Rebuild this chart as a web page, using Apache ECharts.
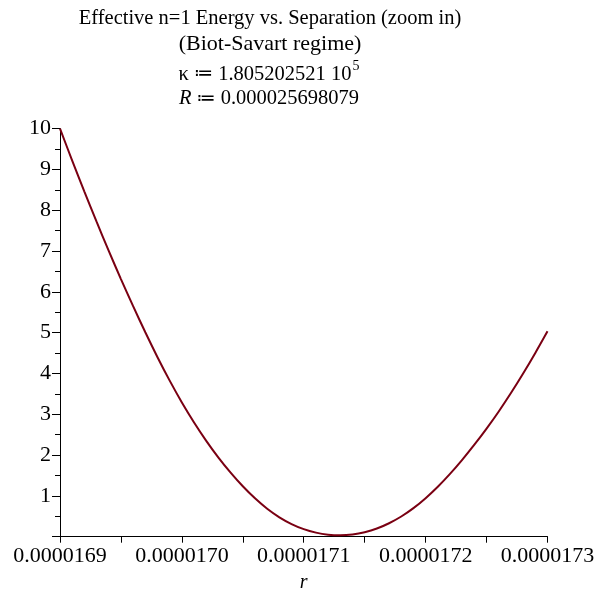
<!DOCTYPE html>
<html>
<head>
<meta charset="utf-8">
<script src="https://cdn.jsdelivr.net/npm/echarts@6/dist/echarts.min.js"></script>
<style>html,body{margin:0;padding:0;background:#fff}#c{width:598px;height:592px}</style>
</head>
<body>
<div id="c"></div>
<script>
var titleLine1 = 'Effective n=1 Energy vs. Separation (zoom in)';
var titleLine2 = '(Biot-Savart regime)';
var kappaSym = 'κ';
var assignSym = '≔';
var kappaMantissa = '1.805202521 10';
var kappaExp = '5';
var rSym = 'R';
var rValueText = '0.000025698079';
var xName = 'r';

var rValues = [
  0.00001690, 0.00001691, 0.00001692, 0.00001693, 0.00001694, 0.00001695, 0.00001696, 0.00001697, 0.00001698, 0.00001699,
  0.00001700, 0.00001701, 0.00001702, 0.00001703, 0.00001704, 0.00001705, 0.00001706, 0.00001707, 0.00001708, 0.00001709,
  0.00001710, 0.00001711, 0.00001712, 0.00001713, 0.00001714, 0.00001715, 0.00001716, 0.00001717, 0.00001718, 0.00001719,
  0.00001720, 0.00001721, 0.00001722, 0.00001723, 0.00001724, 0.00001725, 0.00001726, 0.00001727, 0.00001728, 0.00001729,
  0.00001730
];
var energyValues = [
  10.00, 9.22, 8.46, 7.72, 7.005, 6.315, 5.65, 5.01, 4.40, 3.825,
  3.29, 2.80, 2.35, 1.94, 1.57, 1.235, 0.94, 0.685, 0.475, 0.31,
  0.185, 0.10, 0.05, 0.035, 0.055, 0.11, 0.20, 0.33, 0.495, 0.70,
  0.945, 1.225, 1.54, 1.885, 2.255, 2.65, 3.07, 3.52, 4.00, 4.505,
  5.035
];
var xMin = 0.0000169, xMax = 0.0000173, xStep = 0.00000005;
var yMin = 0, yMax = 10, yStep = 1;

var data = rValues.map(function (r, i) { return [r, energyValues[i]]; });

var serif = 'Liberation Serif';
var chart = echarts.init(document.getElementById('c'), null, {renderer: 'canvas'});
chart.setOption({
  animation: false,
  backgroundColor: '#ffffff',
  title: [
    {text: titleLine1, left: 270, top: 8, textAlign: 'center', padding: 0,
     textStyle: {fontFamily: serif, fontSize: 20.5, fontWeight: 'normal', color: '#000'}},
    {text: titleLine2, left: 270, top: 33, textAlign: 'center', padding: 0,
     textStyle: {fontFamily: serif, fontSize: 22, fontWeight: 'normal', color: '#000'}},
    {text: '{a|' + kappaSym + ' }{o|' + assignSym + '}{a| ' + kappaMantissa + '}{s|' + kappaExp + '}',
     left: 269, top: 59, textAlign: 'center', padding: 0,
     textStyle: {fontFamily: serif, fontSize: 20.5, fontWeight: 'normal', color: '#000',
       rich: {
         a: {fontFamily: serif, fontSize: 20.5, color: '#000', lineHeight: 26, verticalAlign: 'bottom'},
         o: {fontFamily: 'DejaVu Sans', fontSize: 19, color: '#000', lineHeight: 26, verticalAlign: 'bottom', padding: [0, 0, 1, 0]},
         s: {fontFamily: serif, fontSize: 14, color: '#000', lineHeight: 26, verticalAlign: 'top', padding: [0, 0, 10, 1]}
       }}},
    {text: '{i|' + rSym + '} {o|' + assignSym + '}{a| ' + rValueText + '}',
     left: 269, top: 88, textAlign: 'center', padding: 0,
     textStyle: {fontFamily: serif, fontSize: 20.5, fontWeight: 'normal', color: '#000',
       rich: {
         i: {fontFamily: serif, fontSize: 20.5, fontStyle: 'italic', color: '#000', lineHeight: 22},
         o: {fontFamily: 'DejaVu Sans', fontSize: 19, color: '#000', lineHeight: 22},
         a: {fontFamily: serif, fontSize: 20.5, color: '#000', lineHeight: 22}
       }}}
  ],
  grid: {left: 60, right: 50.5, top: 128.7, bottom: 55.3, containLabel: false, outerBoundsMode: 'none'},
  xAxis: {
    type: 'value', min: xMin, max: xMax, interval: xStep,
    name: xName, nameLocation: 'middle', nameGap: 36,
    nameTextStyle: {fontFamily: serif, fontSize: 20, fontStyle: 'italic', color: '#000'},
    axisLine: {show: true, onZero: false, lineStyle: {color: '#000', width: 1}},
    axisTick: {show: true, length: 6, lineStyle: {color: '#000', width: 1}},
    axisLabel: {
      fontFamily: serif, fontSize: 22, color: '#000', margin: 9,
      formatter: function (v) {
        var k = Math.round(v * 1e8);
        if (k % 10 !== 0) return '';
        return (k / 1e8).toFixed(7);
      }
    },
    splitLine: {show: false}
  },
  yAxis: {
    type: 'value', min: yMin, max: yMax, interval: yStep,
    axisLine: {show: true, onZero: false, lineStyle: {color: '#000', width: 1}},
    axisTick: {show: true, length: 8, lineStyle: {color: '#000', width: 1}},
    minorTick: {show: true, splitNumber: 2, length: 5, lineStyle: {color: '#000', width: 1}},
    axisLabel: {
      fontFamily: serif, fontSize: 22, color: '#000', margin: 9,
      formatter: function (v) { return v === 0 ? '' : String(v); }
    },
    splitLine: {show: false}
  },
  series: [{
    type: 'line', data: data, showSymbol: false, smooth: 0.3,
    lineStyle: {color: '#7a0012', width: 2}, itemStyle: {color: '#7a0012'},
    clip: false
  }]
});
</script>
</body>
</html>
